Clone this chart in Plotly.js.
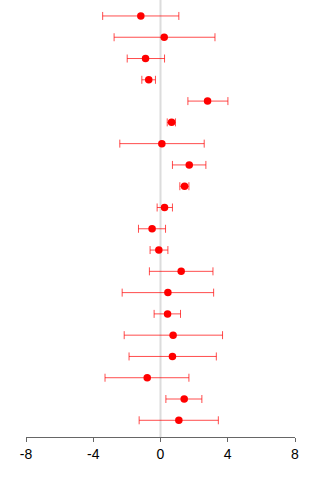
<!DOCTYPE html>
<html>
<head>
<meta charset="utf-8">
<script src="https://cdn.plot.ly/plotly-3.0.1.min.js"></script>
<style>
  html, body { margin: 0; padding: 0; background: #fff; }
  #chart { width: 320px; height: 480px; }
</style>
</head>
<body>
<div id="chart"></div>
<script>
// Effect estimates with lower / upper interval bounds, top row first
const estimate = [-1.17, 0.22, -0.89, -0.70, 2.80, 0.66, 0.08, 1.71, 1.43, 0.24,
                  -0.50, -0.10, 1.23, 0.44, 0.42, 0.75, 0.71, -0.79, 1.41, 1.09];
const lower    = [-3.44, -2.76, -1.98, -1.11, 1.63, 0.40, -2.42, 0.71, 1.15, -0.20,
                  -1.31, -0.62, -0.66, -2.28, -0.38, -2.16, -1.87, -3.30, 0.32, -1.27];
const upper    = [1.09, 3.24, 0.24, -0.30, 4.01, 0.89, 2.60, 2.70, 1.69, 0.71,
                  0.30, 0.44, 3.12, 3.16, 1.19, 3.69, 3.32, 1.69, 2.46, 3.44];
const tickValues = [-8, -4, 0, 4, 8];
const tickLabels = ['-8', '-4', '0', '4', '8'];

// Row positions: first study at the top
const n = estimate.length;
const rowPos = estimate.map((_, i) => n - i);

const trace = {
  type: 'scatter',
  mode: 'markers',
  x: estimate,
  y: rowPos,
  marker: { color: '#ff0000', size: 7.5 },
  error_x: {
    type: 'data',
    symmetric: false,
    array: upper.map((u, i) => u - estimate[i]),
    arrayminus: lower.map((l, i) => estimate[i] - l),
    color: 'rgba(255,0,0,0.7)',
    thickness: 1,
    width: 4
  },
  hoverinfo: 'x'
};

const layout = {
  width: 320,
  height: 480,
  margin: { l: 26, r: 24.7, t: 0, b: 43 },
  paper_bgcolor: '#ffffff',
  plot_bgcolor: '#ffffff',
  showlegend: false,
  font: { family: 'Liberation Sans, Arial, sans-serif', size: 14, color: '#000' },
  xaxis: {
    range: [-8, 8],
    tickvals: tickValues,
    ticktext: tickLabels,
    showgrid: false,
    zeroline: false,
    showline: true,
    linecolor: '#666666',
    linewidth: 1,
    ticks: 'outside',
    ticklen: 4,
    tickcolor: '#666666',
    tickfont: { size: 14, color: '#000' },
    fixedrange: true
  },
  yaxis: {
    range: [0.215, 20.75],
    showgrid: false,
    zeroline: false,
    showline: false,
    showticklabels: false,
    ticks: '',
    fixedrange: true
  },
  shapes: [{
    type: 'line', xref: 'x', yref: 'paper',
    x0: 0, x1: 0, y0: 0, y1: 1,
    line: { color: '#dcdcdc', width: 2 },
    layer: 'below'
  }]
};

Plotly.newPlot('chart', [trace], layout, { displayModeBar: false, staticPlot: true });
</script>
</body>
</html>
